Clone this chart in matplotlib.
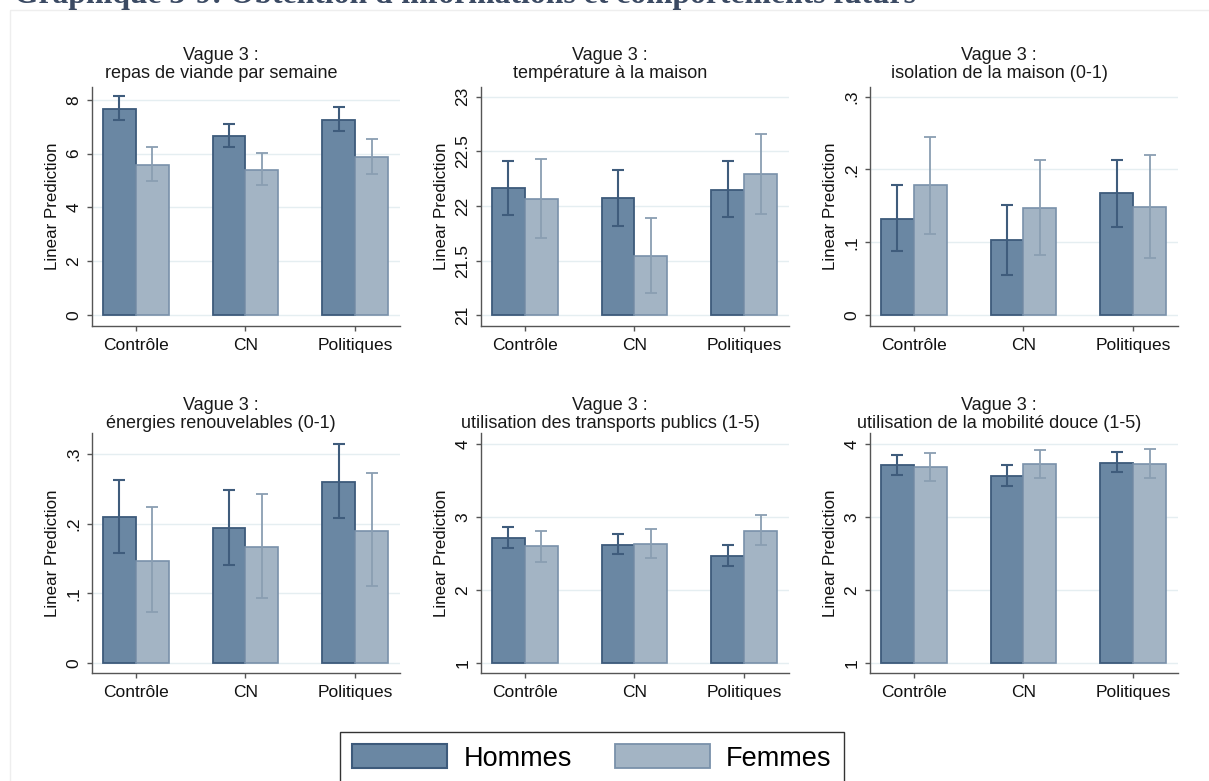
import numpy as np
import matplotlib.pyplot as plt
from matplotlib.patches import Rectangle

plt.rcParams['font.family'] = ['Liberation Sans', 'DejaVu Sans']

groups = ['Contrôle', 'CN', 'Politiques']
series = ['Hommes', 'Femmes']

# moyennes et intervalles de confiance
viande_h = [7.67, 6.64, 7.26]
viande_h_ci = [(7.26, 8.13), (6.23, 7.11), (6.86, 7.73)]
viande_f = [5.58, 5.41, 5.86]
viande_f_ci = [(4.99, 6.23), (4.83, 6.02), (5.24, 6.54)]

temp_h = [22.16, 22.07, 22.15]
temp_h_ci = [(21.92, 22.41), (21.82, 22.33), (21.90, 22.41)]
temp_f = [22.06, 21.54, 22.29]
temp_f_ci = [(21.71, 22.43), (21.20, 21.89), (21.93, 22.66)]

isol_h = [0.132, 0.103, 0.167]
isol_h_ci = [(0.088, 0.179), (0.055, 0.151), (0.121, 0.213)]
isol_f = [0.178, 0.147, 0.149]
isol_f_ci = [(0.111, 0.245), (0.082, 0.213), (0.079, 0.220)]

energ_h = [0.209, 0.193, 0.260]
energ_h_ci = [(0.158, 0.262), (0.140, 0.248), (0.208, 0.314)]
energ_f = [0.147, 0.167, 0.190]
energ_f_ci = [(0.073, 0.224), (0.093, 0.242), (0.111, 0.272)]

transp_h = [2.71, 2.62, 2.47]
transp_h_ci = [(2.58, 2.86), (2.49, 2.77), (2.33, 2.62)]
transp_f = [2.60, 2.63, 2.81]
transp_f_ci = [(2.39, 2.81), (2.44, 2.84), (2.61, 3.03)]

mob_h = [3.71, 3.56, 3.74]
mob_h_ci = [(3.58, 3.85), (3.42, 3.71), (3.62, 3.89)]
mob_f = [3.68, 3.73, 3.73]
mob_f_ci = [(3.49, 3.88), (3.54, 3.92), (3.53, 3.93)]

titles = ['repas de viande par semaine', 'température à la maison',
          'isolation de la maison (0-1)', 'énergies renouvelables (0-1)',
          'utilisation des transports publics (1-5)',
          'utilisation de la mobilité douce (1-5)']

panels = [
    (viande_h, viande_h_ci, viande_f, viande_f_ci,
     [0, 2, 4, 6, 8], ['0', '2', '4', '6', '8'], (-0.41, 8.48)),
    (temp_h, temp_h_ci, temp_f, temp_f_ci,
     [21, 21.5, 22, 22.5, 23], ['21', '21.5', '22', '22.5', '23'], (20.9, 23.09)),
    (isol_h, isol_h_ci, isol_f, isol_f_ci,
     [0, 0.1, 0.2, 0.3], ['0', '.1', '.2', '.3'], (-0.0151, 0.3133)),
    (energ_h, energ_h_ci, energ_f, energ_f_ci,
     [0, 0.1, 0.2, 0.3], ['0', '.1', '.2', '.3'], (-0.0143, 0.330)),
    (transp_h, transp_h_ci, transp_f, transp_f_ci,
     [1, 2, 3, 4], ['1', '2', '3', '4'], (0.863, 4.15)),
    (mob_h, mob_h_ci, mob_f, mob_f_ci,
     [1, 2, 3, 4], ['1', '2', '3', '4'], (0.863, 4.15)),
]

W, H = 1209, 781
col_h = '#6a87a3'
edge_h = '#3d5a7b'
col_f = '#a3b4c4'
edge_f = '#7991aa'
err_h = '#3f5c7c'
err_f = '#8a9eb2'

fig = plt.figure(figsize=(W / 100, H / 100), dpi=100)
fig.patch.set_facecolor('white')

# cadre très léger du graphique
fig.patches.append(Rectangle((10 / W, -0.1), 1.2, 1 - 10 / H + 0.1, transform=fig.transFigure,
                             fill=False, edgecolor='#eeeeee', lw=1))

fig.text(14 / W, 1 - 3 / H, "Graphique 3-9: Obtention d'informations et comportements futurs",
         fontfamily='Liberation Serif', fontweight='bold', fontsize=22.8,
         color='#3b4a63', va='baseline', ha='left')

lefts = [92, 481, 870]
rows = [(87, 326, 55, 73), (433, 673, 405, 423)]
x = np.arange(len(groups))
bw = 0.3

for i, (mh, cih, mf, cif, ticks, tlabels, ylim) in enumerate(panels):
    top, bot, t1, t2 = rows[i // 3]
    left = lefts[i % 3]
    ax = fig.add_axes([left / W, 1 - bot / H, 308 / W, (bot - top) / H])
    base = ticks[0]

    ax.set_axisbelow(True)
    for t in ticks:
        ax.axhline(t, color='#e5eef1', lw=1, zorder=0)

    ax.bar(x - bw / 2, np.array(mh) - base, bw, bottom=base, color=col_h,
           edgecolor=edge_h, lw=1.3, zorder=2)
    ax.bar(x + bw / 2, np.array(mf) - base, bw, bottom=base, color=col_f,
           edgecolor=edge_f, lw=1.2, zorder=2)

    lo, hi = np.array(cih).T
    ax.errorbar(x - bw / 2, mh, yerr=[np.array(mh) - lo, hi - np.array(mh)], fmt='none',
                ecolor=err_h, elinewidth=1.5, capsize=4, capthick=1.5, zorder=3)
    lo, hi = np.array(cif).T
    ax.errorbar(x + bw / 2, mf, yerr=[np.array(mf) - lo, hi - np.array(mf)], fmt='none',
                ecolor=err_f, elinewidth=1.3, capsize=4, capthick=1.3, zorder=3)

    ax.set_xlim(-0.4, 2.41)
    ax.set_ylim(*ylim)
    ax.set_xticks(x)
    ax.set_xticklabels(groups, fontsize=12.5, color='#111111', va='baseline')
    ax.set_yticks(ticks)
    ax.set_yticklabels(tlabels, fontsize=12.5, rotation=90, va='center', color='#111111')
    ax.set_ylabel('Linear Prediction', fontsize=12.2, color='#111111', labelpad=5)
    ax.tick_params(axis='both', length=3.5, width=1, color='#555555')
    ax.tick_params(axis='x', pad=13.5)
    ax.tick_params(axis='y', pad=4)

    for s in ['top', 'right']:
        ax.spines[s].set_visible(False)
    for s in ['left', 'bottom']:
        ax.spines[s].set_color('#555555')
        ax.spines[s].set_linewidth(1)

    cx = (left + 129) / W
    fig.text(cx, 1 - t1 / H, 'Vague 3 :', ha='center', va='center', fontsize=13, color='#1a1a1a')
    fig.text(cx, 1 - t2 / H, titles[i], ha='center', va='center', fontsize=13, color='#1a1a1a')

handles = [Rectangle((0, 0), 1, 1, facecolor=col_h, edgecolor=edge_h, lw=1.5),
           Rectangle((0, 0), 1, 1, facecolor=col_f, edgecolor=edge_f, lw=1.3)]
leg = fig.legend(handles, series, loc='upper center', bbox_to_anchor=(592 / W, 1 - 732 / H),
                 ncol=2, fontsize=19.5, handlelength=3.5, handleheight=1.0, handletextpad=0.6,
                 columnspacing=1.6, borderpad=0.45, borderaxespad=0, fancybox=False,
                 framealpha=1)
leg.get_frame().set_edgecolor('#333333')
leg.get_frame().set_linewidth(1)

fig.savefig('out.png', dpi=100)
